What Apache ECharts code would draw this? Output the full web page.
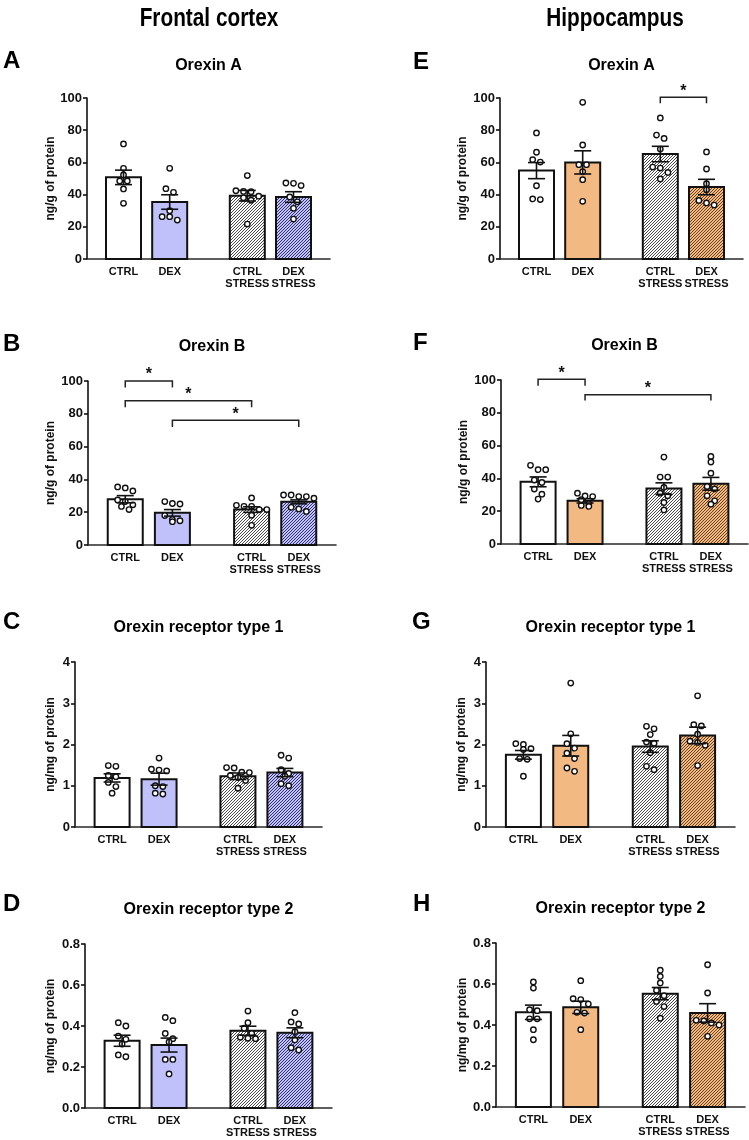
<!DOCTYPE html>
<html><head><meta charset="utf-8">
<script src="https://cdn.jsdelivr.net/npm/echarts@6/dist/echarts.min.js"></script>
<style>html,body{margin:0;padding:0;background:#fff}#c{width:749px;height:1140px}</style>
</head><body><div id="c"></div>
<script>
// ---------- data ----------
const CATEGORIES = ['CTRL', 'DEX', 'CTRL\nSTRESS', 'DEX\nSTRESS'];
const HEADERS = ['Frontal cortex', 'Hippocampus'];
const TITLES = {A:'Orexin A', B:'Orexin B', C:'Orexin receptor type 1', D:'Orexin receptor type 2',
                E:'Orexin A', F:'Orexin B', G:'Orexin receptor type 1', H:'Orexin receptor type 2'};
const UNITS_PEPTIDE = 'ng/g of protein';
const UNITS_RECEPTOR = 'ng/mg of protein';

const A_mean = [50.7, 35.4, 39.3, 38.5];
const A_sem  = [4.5, 4.5, 3.3, 3.3];
const A_dots = [[71.5, 56.3, 52.2, 48.5, 48.5, 43.5, 34.6],
                [56.3, 43.7, 41.4, 30.0, 26.3, 26.3, 24.2],
                [51.8, 42.4, 42.0, 41.8, 39.0, 38.0, 36.5, 21.7],
                [47.2, 47.0, 45.6, 38.5, 35.5, 31.5, 24.8]];

const B_mean = [27.9, 19.6, 21.6, 26.3];
const B_sem  = [2.2, 2.0, 1.7, 1.2];
const B_dots = [[35.4, 34.8, 33.0, 27.5, 26.5, 24.5, 23.5, 21.6],
                [26.5, 25.3, 25.0, 18.0, 15.5, 14.8, 14.2],
                [28.7, 24.2, 23.6, 23.6, 21.6, 21.6, 18.1, 12.0],
                [30.5, 30.5, 29.5, 29.5, 28.5, 23.0, 22.0, 20.5]];
const B_sig  = [[0, 1, 100, 4], [0, 2, 88, 4], [1, 3, 76, 4]];

const C_mean = [1.19, 1.16, 1.23, 1.32];
const C_sem  = [0.10, 0.145, 0.08, 0.10];
const C_dots = [[1.49, 1.47, 1.25, 1.22, 1.08, 0.98, 0.82],
                [1.67, 1.40, 1.38, 1.36, 1.00, 0.98, 0.82, 0.80],
                [1.44, 1.43, 1.33, 1.32, 1.25, 1.20, 1.13, 0.94],
                [1.74, 1.67, 1.39, 1.30, 1.23, 1.05, 1.00]];

const D_mean = [0.328, 0.307, 0.377, 0.367];
const D_sem  = [0.027, 0.034, 0.022, 0.024];
const D_dots = [[0.416, 0.400, 0.351, 0.335, 0.312, 0.259, 0.250],
                [0.442, 0.426, 0.364, 0.338, 0.322, 0.237, 0.237, 0.166],
                [0.473, 0.416, 0.389, 0.364, 0.345, 0.340, 0.338],
                [0.465, 0.420, 0.410, 0.372, 0.332, 0.294, 0.283]];

const E_mean = [54.9, 60.0, 65.2, 44.7];
const E_sem  = [5.0, 7.2, 4.8, 4.8];
const E_dots = [[78.3, 66.3, 61.7, 60.2, 45.5, 37.3, 36.9],
                [97.3, 70.8, 58.6, 58.6, 54.2, 49.3, 35.8],
                [87.6, 77.0, 74.9, 68.3, 57.1, 56.5, 53.8, 49.7],
                [66.5, 55.9, 46.8, 43.0, 36.4, 34.8, 33.5]];
const E_sig  = [[2, 3, 100.5, 3.7]];

const F_mean = [37.9, 26.3, 33.8, 36.7];
const F_sem  = [3.0, 1.3, 3.5, 3.9];
const F_dots = [[48.0, 45.3, 45.3, 39.0, 37.5, 33.5, 30.4, 27.4],
                [31.0, 29.3, 28.9, 27.0, 24.5, 23.5, 22.9],
                [53.0, 40.8, 40.8, 34.5, 31.0, 29.4, 25.3, 20.8],
                [53.4, 50.0, 43.2, 35.0, 33.6, 29.4, 26.3, 24.3]];
const F_sig  = [[0, 1, 100.5, 4], [1, 3, 91, 3.5]];

const G_mean = [1.75, 1.97, 1.95, 2.22];
const G_sem  = [0.105, 0.25, 0.14, 0.20];
const G_dots = [[2.02, 2.00, 1.90, 1.88, 1.66, 1.64, 1.23],
                [3.49, 2.26, 2.02, 1.91, 1.79, 1.66, 1.43, 1.35],
                [2.44, 2.38, 2.24, 2.06, 2.03, 1.80, 1.47, 1.39],
                [3.18, 2.48, 2.45, 2.25, 2.08, 2.05, 1.98, 1.49]];

const H_mean = [0.462, 0.486, 0.553, 0.459];
const H_sem  = [0.035, 0.030, 0.030, 0.045];
const H_dots = [[0.610, 0.580, 0.475, 0.470, 0.430, 0.430, 0.377, 0.328],
                [0.616, 0.528, 0.524, 0.502, 0.462, 0.458, 0.377],
                [0.667, 0.637, 0.605, 0.569, 0.543, 0.515, 0.490, 0.433],
                [0.694, 0.556, 0.423, 0.420, 0.410, 0.400, 0.345]];

const Y_TICKS_PEPTIDE = [0, 100, 20];
const Y_TICKS_R1 = [0, 4, 1];
const Y_TICKS_R2 = [0, 0.8, 0.2];

// ---------- layout / style ----------
const XPOS = [0.79, 1.79, 3.47, 4.47];   // group slots on the x axis
const X_MIN = 0, X_MAX = 5.26;
const FONT = "'Liberation Sans', Arial, Helvetica, sans-serif";
const INK = '#111';

const PANELS = [
  {k:'A', side:0, grid:[87, 98, 243, 161],  mean:A_mean, sem:A_sem, dots:A_dots, sig:[],    y:Y_TICKS_PEPTIDE, name:UNITS_PEPTIDE, gap:30, letter:[3, 61]},
  {k:'B', side:0, grid:[88, 381, 248, 164], mean:B_mean, sem:B_sem, dots:B_dots, sig:B_sig, y:Y_TICKS_PEPTIDE, name:UNITS_PEPTIDE, gap:31, letter:[3, 344]},
  {k:'C', side:0, grid:[75, 662, 247, 165], mean:C_mean, sem:C_sem, dots:C_dots, sig:[],    y:Y_TICKS_R1, name:UNITS_RECEPTOR, gap:18, letter:[3, 622]},
  {k:'D', side:0, grid:[85, 944, 247, 164], mean:D_mean, sem:D_sem, dots:D_dots, sig:[],    y:Y_TICKS_R2, name:UNITS_RECEPTOR, gap:28, letter:[3, 904]},
  {k:'E', side:1, grid:[500, 98, 243, 161], mean:E_mean, sem:E_sem, dots:E_dots, sig:E_sig, y:Y_TICKS_PEPTIDE, name:UNITS_PEPTIDE, gap:31, letter:[413, 62]},
  {k:'F', side:1, grid:[501, 380, 247, 164],mean:F_mean, sem:F_sem, dots:F_dots, sig:F_sig, y:Y_TICKS_PEPTIDE, name:UNITS_PEPTIDE, gap:31, letter:[413, 343]},
  {k:'G', side:1, grid:[486, 662, 249, 165],mean:G_mean, sem:G_sem, dots:G_dots, sig:[],    y:Y_TICKS_R1, name:UNITS_RECEPTOR, gap:18, letter:[412, 622]},
  {k:'H', side:1, grid:[496, 943, 249, 164],mean:H_mean, sem:H_sem, dots:H_dots, sig:[],    y:Y_TICKS_R2, name:UNITS_RECEPTOR, gap:26, letter:[413, 904]}
];

function hatch(bg, line) {
  const n = 3;
  const c = document.createElement('canvas');
  c.width = c.height = n;
  const x = c.getContext('2d');
  x.fillStyle = bg; x.fillRect(0, 0, n, n);
  x.fillStyle = line;
  for (let i = 0; i < n; i++) x.fillRect(i, n - 1 - i, 1, 1);
  return {image: c, repeat: 'repeat'};
}
const DEX_COL = ['#c0c0fa', '#f3b982'];
const FILLS = [
  ['#ffffff', DEX_COL[0], hatch('#ffffff', '#4a4a4a'), hatch(DEX_COL[0], '#34346a')],
  ['#ffffff', DEX_COL[1], hatch('#ffffff', '#4a4a4a'), hatch(DEX_COL[1], '#6a4320')]
];
const BAR_W = 35, CAP = 8.5, DOT_R = 2.7, STEP = 7.6, ROW_H = 5.5;

const grids = [], xAxes = [], yAxes = [], series = [], graphics = [];

PANELS.forEach((p, i) => {
  const [l, t, w, h] = p.grid;
  grids.push({left: l, top: t, width: w, height: h, containLabel: false});
  xAxes.push({
    type: 'value', gridIndex: i, min: X_MIN, max: X_MAX,
    axisLine: {show: true, onZero: false, lineStyle: {color: '#2a2a2a', width: 1.6}},
    axisTick: {show: false}, splitLine: {show: false},
    axisLabel: {
      customValues: XPOS, margin: 7, color: INK, fontFamily: FONT, fontWeight: 'bold',
      fontSize: 11, lineHeight: 12, align: 'center',
      formatter: v => { const k = XPOS.findIndex(x => Math.abs(x - v) < 1e-6); return k >= 0 ? CATEGORIES[k] : ''; }
    }
  });
  yAxes.push({
    type: 'value', gridIndex: i, min: p.y[0], max: p.y[1], interval: p.y[2],
    name: p.name, nameLocation: 'middle', nameGap: p.gap,
    nameTextStyle: {color: INK, fontFamily: FONT, fontWeight: 'bold', fontSize: 12},
    axisLine: {show: true, lineStyle: {color: INK, width: 1.6}},
    axisTick: {show: true, length: 4, lineStyle: {color: INK, width: 1.6}},
    splitLine: {show: false},
    axisLabel: {margin: 5, color: INK, fontFamily: FONT, fontWeight: 'bold', fontSize: 13,
      formatter: v => p.y[2] < 1 ? v.toFixed(1) : String(v)}
  });

  // bars
  series.push({
    type: 'custom', xAxisIndex: i, yAxisIndex: i, silent: true, z: 2,
    data: p.mean.map((m, j) => [XPOS[j], m]),
    renderItem: (params, api) => {
      const j = params.dataIndex;
      const top = api.coord([api.value(0), api.value(1)]);
      const base = api.coord([api.value(0), 0]);
      return {type: 'rect',
        shape: {x: top[0] - BAR_W / 2, y: top[1], width: BAR_W, height: base[1] - top[1]},
        style: {fill: FILLS[p.side][j], stroke: INK, lineWidth: 2}};
    }
  });
  // individual points (beeswarm-style spreading of near-equal values)
  series.push({
    type: 'custom', xAxisIndex: i, yAxisIndex: i, silent: true, z: 3,
    data: p.mean.map((m, j) => [XPOS[j], m]),
    renderItem: (params, api) => {
      const j = params.dataIndex;
      const vals = p.dots[j].slice().sort((a, b) => b - a);
      const cx = api.coord([api.value(0), 0])[0];
      const ys = vals.map(v => api.coord([api.value(0), v])[1]);
      const rows = []; let cur = [];
      ys.forEach(y => { if (cur.length && y - cur[0] > ROW_H) { rows.push(cur); cur = []; } cur.push(y); });
      if (cur.length) rows.push(cur);
      const children = [];
      rows.forEach(r => r.forEach((y, k) => children.push({
        type: 'circle', shape: {cx: cx + (k - (r.length - 1) / 2) * STEP, cy: y, r: DOT_R},
        style: {fill: '#fff', stroke: INK, lineWidth: 1.4}
      })));
      return {type: 'group', children};
    }
  });
  // error bars (mean ± SEM)
  series.push({
    type: 'custom', xAxisIndex: i, yAxisIndex: i, silent: true, z: 4,
    data: p.mean.map((m, j) => [XPOS[j], m, p.sem[j]]),
    renderItem: (params, api) => {
      const x = api.value(0), m = api.value(1), s = api.value(2);
      const hi = api.coord([x, m + s]), lo = api.coord([x, m - s]);
      const st = {stroke: INK, lineWidth: 1.6};
      return {type: 'group', children: [
        {type: 'line', shape: {x1: hi[0], y1: hi[1], x2: lo[0], y2: lo[1]}, style: st},
        {type: 'line', shape: {x1: hi[0] - CAP, y1: hi[1], x2: hi[0] + CAP, y2: hi[1]}, style: st},
        {type: 'line', shape: {x1: lo[0] - CAP, y1: lo[1], x2: lo[0] + CAP, y2: lo[1]}, style: st}
      ]};
    }
  });
  // significance brackets
  if (p.sig.length) {
    series.push({
      type: 'custom', xAxisIndex: i, yAxisIndex: i, silent: true, z: 5,
      data: p.sig.map(s => [XPOS[s[0]], s[2], XPOS[s[1]], s[3]]),
      renderItem: (params, api) => {
        const x1 = api.value(0), y = api.value(1), x2 = api.value(2), d = api.value(3);
        const a = api.coord([x1, y - d]), b = api.coord([x1, y]), c = api.coord([x2, y]), e = api.coord([x2, y - d]);
        return {type: 'group', children: [
          {type: 'polyline', shape: {points: [a, b, c, e]}, style: {stroke: '#222', lineWidth: 1.5, fill: null}},
          {type: 'text', x: (b[0] + c[0]) / 2, y: b[1] - 6,
           style: {text: '*', font: 'bold 16px ' + FONT, fill: INK, align: 'center', verticalAlign: 'middle'}}
        ]};
      }
    });
  }
  // panel letter + title
  graphics.push({type: 'text', x: p.letter[0], y: p.letter[1],
    style: {text: p.k, font: 'bold 24px ' + FONT, fill: '#000', align: 'left', verticalAlign: 'middle'}});
  graphics.push({type: 'text', x: l + w / 2, y: t - 32 - (i % 4 === 0 ? 0 : 2),
    style: {text: TITLES[p.k], font: 'bold 16px ' + FONT, fill: '#000', align: 'center', verticalAlign: 'middle'}});
});

graphics.push({type: 'text', x: 209, y: 19, scaleX: 0.8,
  style: {text: HEADERS[0], font: 'bold 26px ' + FONT, fill: '#000', align: 'center', verticalAlign: 'middle'}});
graphics.push({type: 'text', x: 615, y: 19, scaleX: 0.8,
  style: {text: HEADERS[1], font: 'bold 26px ' + FONT, fill: '#000', align: 'center', verticalAlign: 'middle'}});

const chart = echarts.init(document.getElementById('c'), null, {renderer: 'canvas'});
chart.setOption({
  animation: false, backgroundColor: '#fff',
  grid: grids, xAxis: xAxes, yAxis: yAxes, series: series, graphic: graphics
});
</script></body></html>
